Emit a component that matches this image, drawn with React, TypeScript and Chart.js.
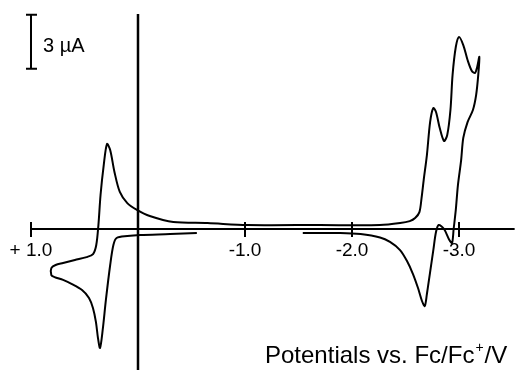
import React, { useEffect, useRef } from 'react';
import { Chart, registerables } from 'chart.js';

Chart.register(...registerables);

// Potential (V vs Fc/Fc+) and current (µA) along the scan
const potentials = [
  -0.55, -0.30, -0.02, 0.10, 0.20, 0.23, 0.26, 0.30, 0.33, 0.355, 0.374, 0.393, 0.421, 0.458, 0.523, 0.617, 0.70, 0.78, 0.81,
  0.81, 0.77, 0.70, 0.59, 0.48, 0.42, 0.39, 0.37, 0.35, 0.32, 0.29, 0.26, 0.22, 0.17, 0.10, 0.01, -0.11, -0.33, -0.65,
  -1.02, -1.70, -2.26, -2.45, -2.54, -2.59, -2.63, -2.65, -2.67, -2.70, -2.73, -2.76, -2.785, -2.82, -2.86, -2.89,
  -2.92, -2.94, -2.97, -3.00, -3.04, -3.08, -3.12, -3.15, -3.17, -3.19,
  -3.18, -3.16, -3.13, -3.08, -3.04, -3.02, -2.99, -2.97, -2.95, -2.935, -2.91, -2.86, -2.81, -2.785, -2.76, -2.73,
  -2.70, -2.68, -2.654, -2.617, -2.57, -2.514, -2.449, -2.355, -2.262, -2.08, -1.89, -1.54,
];
const currents = [
  -0.22, -0.28, -0.33, -0.39, -0.50, -0.89, -2.00, -3.94, -5.61, -6.61, -6.06, -5.17, -4.39, -3.83, -3.39, -3.06, -2.83, -2.67, -2.56,
  -2.17, -2.00, -1.89, -1.72, -1.56, -1.39, -0.89, 0.22, 1.89, 3.56, 4.72, 4.39, 3.17, 2.06, 1.44, 1.06, 0.72, 0.39, 0.33,
  0.22, 0.22, 0.22, 0.33, 0.44, 0.61, 0.94, 1.72, 2.72, 4.11, 5.94, 6.72, 6.50, 5.61, 4.89, 5.22,
  6.61, 8.56, 10.11, 10.67, 10.22, 9.39, 8.78, 8.67, 9.00, 9.56,
  8.56, 7.44, 6.61, 5.94, 5.06, 3.83, 2.44, 1.06, 0.00, -0.78, -0.61, 0.00, 0.22, -0.17, -1.17, -2.39,
  -3.61, -4.28, -4.00, -3.28, -2.50, -1.78, -1.17, -0.72, -0.47, -0.28, -0.22, -0.22,
];

const tickValues = [1.0, -1.0, -2.0, -3.0];
const tickLabels = ['+ 1.0', '-1.0', '-2.0', '-3.0'];
const axisFrom = 1.0;
const axisTo = -3.52;
const scaleBarPotential = 1.0;
const scaleBarBottom = 8.9;
const scaleBarSize = 3;
const scaleBarLabel = '3 \u00B5A';

const FONT = '"Liberation Sans", Arial, sans-serif';

const decorPlugin = {
  id: 'cvDecor',
  beforeDatasetsDraw(chart: any) {
    const ctx = chart.ctx;
    const xs = chart.scales.x;
    const ys = chart.scales.y;
    const y0 = ys.getPixelForValue(0);
    ctx.save();
    ctx.strokeStyle = '#000';
    ctx.lineCap = 'butt';
    // horizontal axis
    ctx.lineWidth = 2;
    ctx.beginPath();
    ctx.moveTo(xs.getPixelForValue(axisFrom), y0);
    ctx.lineTo(xs.getPixelForValue(axisTo), y0);
    ctx.stroke();
    // ticks
    tickValues.forEach((v) => {
      const x = xs.getPixelForValue(v);
      ctx.beginPath();
      ctx.moveTo(x, y0 - 7);
      ctx.lineTo(x, y0 + 8);
      ctx.stroke();
    });
    // vertical line at 0 V
    const xz = xs.getPixelForValue(0);
    ctx.lineWidth = 2.5;
    ctx.beginPath();
    ctx.moveTo(xz, ys.getPixelForValue(11.94));
    ctx.lineTo(xz, ys.bottom);
    ctx.stroke();
    // scale bar
    const xb = xs.getPixelForValue(scaleBarPotential);
    const yb1 = ys.getPixelForValue(scaleBarBottom);
    const yb2 = ys.getPixelForValue(scaleBarBottom + scaleBarSize);
    ctx.lineWidth = 2;
    ctx.beginPath();
    ctx.moveTo(xb, yb1);
    ctx.lineTo(xb, yb2);
    ctx.moveTo(xb - 5, yb1);
    ctx.lineTo(xb + 6, yb1);
    ctx.moveTo(xb - 5, yb2);
    ctx.lineTo(xb + 6, yb2);
    ctx.stroke();
    ctx.restore();
  },
  afterDatasetsDraw(chart: any) {
    const ctx = chart.ctx;
    const xs = chart.scales.x;
    const ys = chart.scales.y;
    const y0 = ys.getPixelForValue(0);
    ctx.save();
    ctx.fillStyle = '#000';
    ctx.textBaseline = 'alphabetic';
    ctx.font = `19px ${FONT}`;
    ctx.textAlign = 'center';
    tickValues.forEach((v, i) => {
      ctx.fillText(tickLabels[i], xs.getPixelForValue(v), y0 + 27);
    });
    // scale bar label
    ctx.textAlign = 'left';
    ctx.font = `20px ${FONT}`;
    const xb = xs.getPixelForValue(scaleBarPotential);
    ctx.fillText(scaleBarLabel, xb + 12, ys.getPixelForValue(scaleBarBottom + scaleBarSize) + 37);
    // axis title
    const tx = 265;
    const ty = chart.height - 7;
    ctx.font = `24px ${FONT}`;
    const part1 = 'Potentials vs. Fc/Fc';
    ctx.fillText(part1, tx, ty);
    let w = ctx.measureText(part1).width;
    ctx.font = `14px ${FONT}`;
    ctx.fillText('+', tx + w + 1, ty - 11);
    w += ctx.measureText('+').width + 2;
    ctx.font = `24px ${FONT}`;
    ctx.fillText('/V', tx + w, ty);
    ctx.restore();
  },
};

export default function App() {
  const canvasRef = useRef<HTMLCanvasElement>(null);

  useEffect(() => {
    const canvas = canvasRef.current;
    if (!canvas) return;
    const points = potentials.map((v, i) => ({ x: v, y: currents[i] }));
    const chart = new Chart(canvas, {
      type: 'scatter',
      data: {
        datasets: [
          {
            data: points,
            showLine: true,
            borderColor: '#000',
            borderWidth: 2,
            pointRadius: 0,
            tension: 0.3,
            fill: false,
          },
        ],
      },
      options: {
        responsive: false,
        animation: false,
        layout: { padding: 0 },
        plugins: { legend: { display: false }, tooltip: { enabled: false } },
        scales: {
          x: { type: 'linear', reverse: true, min: -3.6355, max: 1.2897, display: false },
          y: { type: 'linear', min: -7.833, max: 12.722, display: false },
        },
      },
      plugins: [decorPlugin],
    });
    return () => chart.destroy();
  }, []);

  return (
    <div style={{ position: 'absolute', left: 0, top: 0, width: 527, height: 370, background: '#fff' }}>
      <canvas ref={canvasRef} width={527} height={370} />
    </div>
  );
}
